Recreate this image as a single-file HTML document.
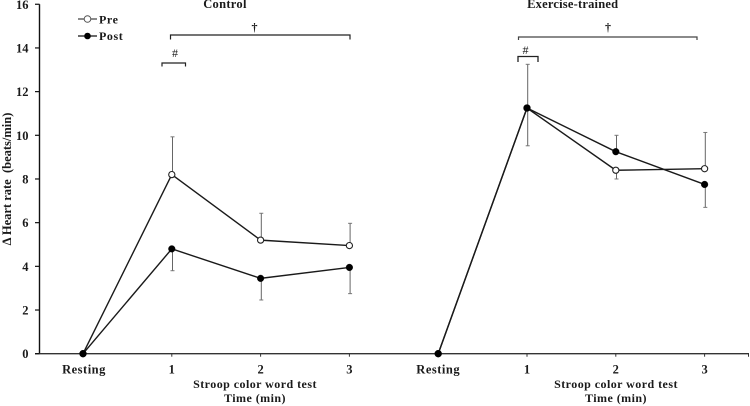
<!DOCTYPE html>
<html>
<head>
<meta charset="utf-8">
<style>
html,body{margin:0;padding:0;background:#fff;width:750px;height:406px;overflow:hidden}
svg{display:block}
text{font-family:"Liberation Serif",serif;font-weight:bold;fill:#1a1a1a}
</style>
</head>
<body>
<svg id="chart" xmlns="http://www.w3.org/2000/svg" width="750" height="406" viewBox="0 0 750 406">
  <rect width="750" height="406" fill="#fff"/>
  <text x="225" y="8" font-size="12.5" text-anchor="middle" letter-spacing=".3">Control</text>
  <text x="572.7" y="8" font-size="12.5" text-anchor="middle" letter-spacing=".2">Exercise-trained</text>
  <text transform="translate(11,179) rotate(-90)" font-size="12.5" text-anchor="middle" xml:space="preserve">Δ Heart rate  (beats/min)</text>
  <text x="255" y="388" font-size="12" text-anchor="middle" letter-spacing=".45">Stroop color word test</text>
  <text x="255" y="402" font-size="12" text-anchor="middle" letter-spacing=".45">Time (min)</text>
  <text x="616" y="388" font-size="12" text-anchor="middle" letter-spacing=".45">Stroop color word test</text>
  <text x="616" y="402" font-size="12" text-anchor="middle" letter-spacing=".45">Time (min)</text>

  <g>
    <line x1="78" x2="97" y1="19" y2="19" stroke="#444" stroke-width="1.3"/>
    <circle cx="87.5" cy="19" r="3.3" fill="#fff" stroke="#555" stroke-width="1"/>
    <text x="99" y="23.5" font-size="12" letter-spacing=".6">Pre</text>
    <line x1="78" x2="97" y1="36" y2="36" stroke="#111" stroke-width="1.3"/>
    <circle cx="87.5" cy="36" r="3.3" fill="#000"/>
    <text x="99" y="40" font-size="12" letter-spacing=".6">Post</text>
  </g>

  <g fill="none" stroke="#222" stroke-width="1.2">
    <path d="M170.5 39.5V35H350V39.5"/>
    <path d="M162 66.5V63H185.5V66.5"/>
    <path d="M518.5 40V37H697V40" stroke="#444"/>
    <path d="M518 62V56.500H538V62" stroke-width="1.3"/>
  </g>
  <text x="254.500" y="31" font-size="12" text-anchor="middle">†</text>
  <text x="175" y="57" font-size="12" text-anchor="middle" style="font-weight:normal">#</text>
  <text x="608" y="31" font-size="12" text-anchor="middle">†</text>
  <text x="525.500" y="54" font-size="12" text-anchor="middle" style="font-weight:normal">#</text>

  <g id="axes"></g>
  <g id="marks"></g>
</svg>
<script>
const categories = ["Resting", "1", "2", "3", "Resting", "1", "2", "3"];
const yTicks = [0, 2, 4, 6, 8, 10, 12, 14, 16];

const controlPre = [0, 8.2, 5.2, 4.95];
const controlPost = [0, 4.8, 3.45, 3.95];
const exercisePre = [0, 11.25, 8.4, 8.47];
const exercisePost = [0, 11.25, 9.25, 7.75];

const controlPreErrorTop = [null, 9.93, 6.43, 5.97];
const controlPostErrorBottom = [null, 3.8, 2.46, 2.75];
const exercisePreErrorBottom = [null, 9.52, 8.0, null];
const exercisePreErrorTop = [null, null, null, 10.13];
const exercisePostErrorTop = [null, 13.25, 10.0, null];
const exercisePostErrorBottom = [null, null, null, 6.7];

const NS = "http://www.w3.org/2000/svg";
const axes = document.getElementById("axes");
const marks = document.getElementById("marks");
const panelOffset = 4;
function xScale(i) { return 83 + i * 88.8; }
function yScale(v) { return 353.7 - v * 21.84; }
function make(parent, tag, attrs) {
  const el = document.createElementNS(NS, tag);
  for (const k in attrs) el.setAttribute(k, attrs[k]);
  parent.appendChild(el);
  return el;
}

const yAxisLine = make(axes, "line", {x1: 39.5, x2: 39.5, y1: yScale(16), y2: yScale(0), stroke: "#111", "stroke-width": 1.4});


const xAxisLine = make(axes, "line", {x1: 35, x2: 749, y1: yScale(0), y2: yScale(0), stroke: "#333", "stroke-width": 1.4});


const xAxisEndTick = make(axes, "line", {x1: 748.5, x2: 748.5, y1: yScale(0), y2: yScale(0) + 3, stroke: "#333", "stroke-width": 1});



yTicks.forEach(function (v) {
  const tick = make(axes, "line", {x1: 35, x2: 39.5, y1: yScale(v), y2: yScale(v), stroke: "#111", "stroke-width": 1.2});
  
  
  const label = make(axes, "text", {x: 28.5, y: yScale(v) + 4.5, "font-size": 12.5, "text-anchor": "end"});
  
  
  label.textContent = v;
});

categories.forEach(function (c, i) {
  if (c !== "Resting") {
    const tick = make(axes, "line", {x1: xScale(i), x2: xScale(i), y1: yScale(0), y2: yScale(0) + 3, stroke: "#333", "stroke-width": 1});
    
    
  }
  const label = make(axes, "text", {x: xScale(i) + (i === 0 ? 1 : 0), y: 373.5, "font-size": 12.5, "text-anchor": "middle", "letter-spacing": c === "Resting" ? 0.5 : 0});
  
  
  label.textContent = c;
});

function drawError(base, ends, offset) {
  ends.forEach(function (e, i) {
    if (e === null) return;
    const x = xScale(i + offset) + 0.7;
    const stem = make(marks, "line", {x1: x, x2: x, y1: yScale(base[i]), y2: yScale(e), stroke: "#666", "stroke-width": 1});
    
    
    const cap = make(marks, "line", {x1: x - 2, x2: x + 2, y1: yScale(e), y2: yScale(e), stroke: "#777", "stroke-width": 1});
    
    
  });
}
function drawLine(values, offset) {
  const pts = values.map(function (v, i) { return xScale(i + offset) + "," + yScale(v); }).join(" ");
  const line = make(marks, "polyline", {points: pts, fill: "none", stroke: "#1a1a1a", "stroke-width": 1.4});
  
  
}
function drawPoints(values, offset, filled) {
  values.forEach(function (v, i) {
    const p = make(marks, "circle", {cx: xScale(i + offset), cy: yScale(v), r: filled ? 3.4 : 3.1, fill: filled ? "#000" : "#fff", stroke: filled ? "#000" : "#222", "stroke-width": filled ? 0.3 : 1.1});
    
    
  });
}

drawError(controlPre, controlPreErrorTop, 0);
drawError(controlPost, controlPostErrorBottom, 0);
drawError(exercisePre, exercisePreErrorBottom, panelOffset);
drawError(exercisePre, exercisePreErrorTop, panelOffset);
drawError(exercisePost, exercisePostErrorTop, panelOffset);
drawError(exercisePost, exercisePostErrorBottom, panelOffset);

drawLine(controlPre, 0);
drawLine(controlPost, 0);
drawLine(exercisePre, panelOffset);
drawLine(exercisePost, panelOffset);

drawPoints(controlPre, 0, false);
drawPoints(controlPost, 0, true);
drawPoints(exercisePre, panelOffset, false);
drawPoints(exercisePost, panelOffset, true);
</script>
</body>
</html>
